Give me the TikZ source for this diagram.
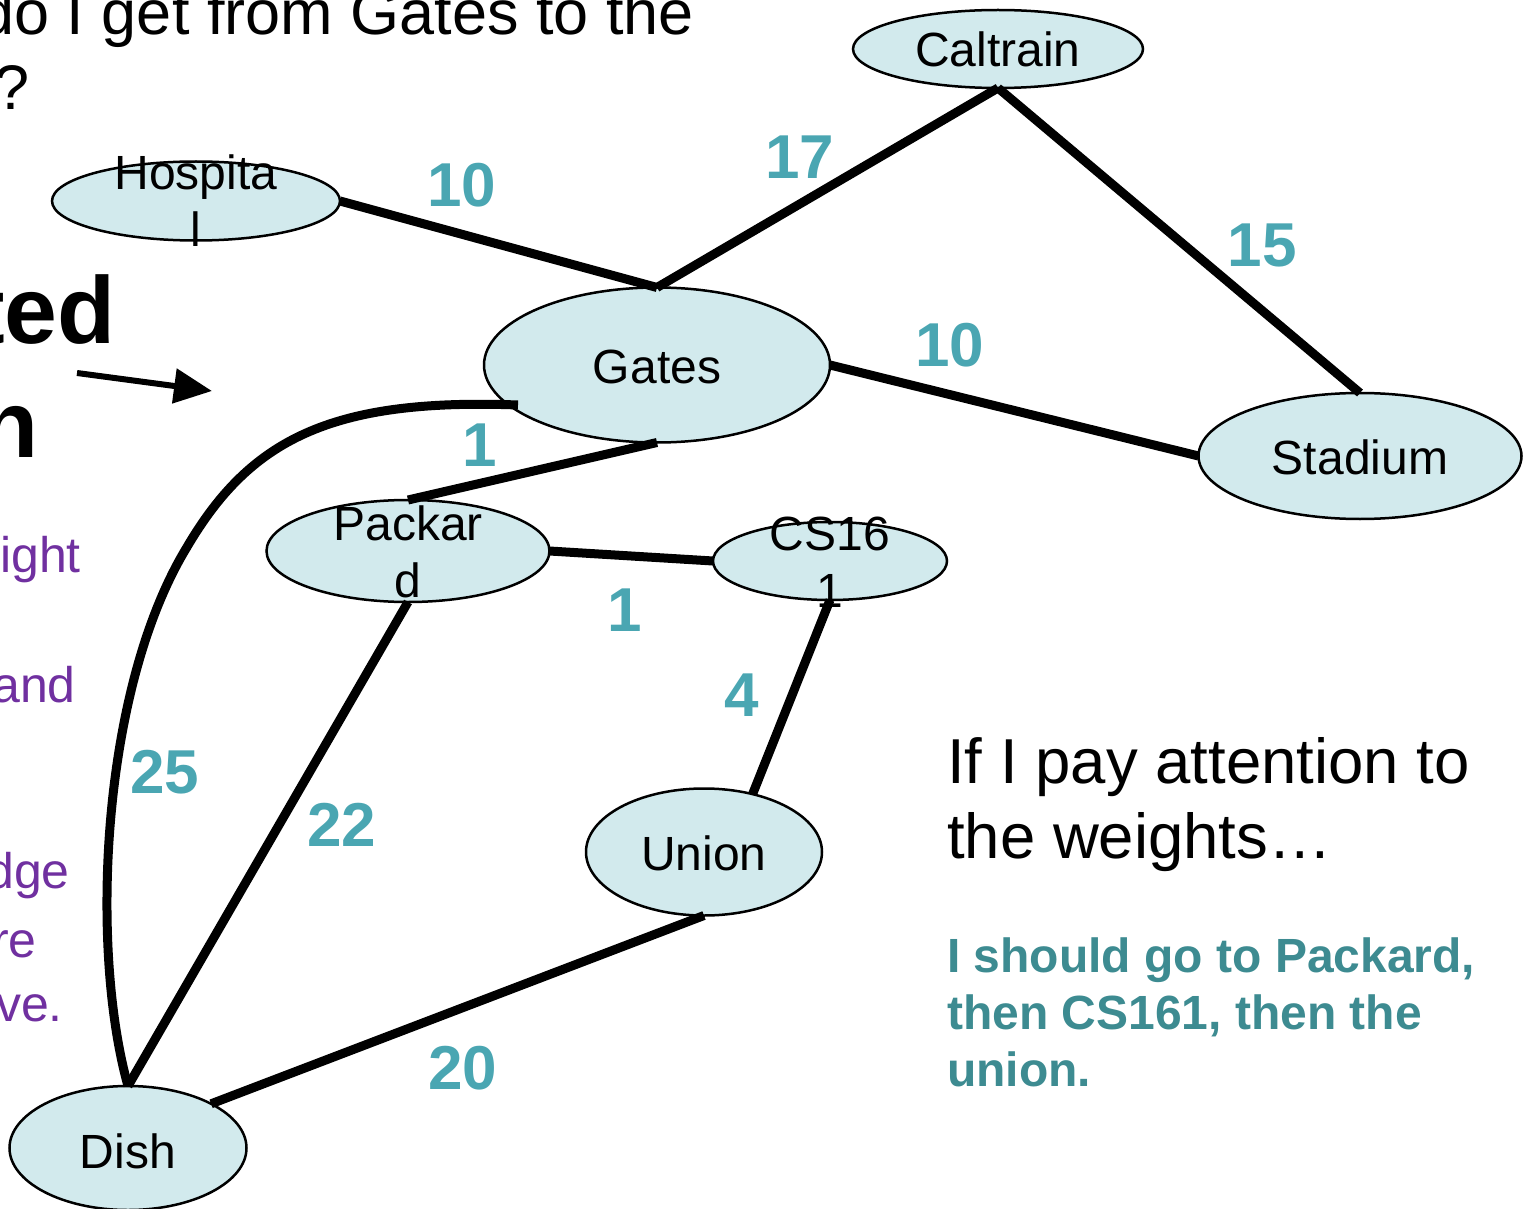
\documentclass[tikz,border=0pt]{standalone}
\usepackage{fontspec}
\setmainfont{Liberation Sans}
\usetikzlibrary{shapes.geometric, arrows.meta}

\definecolor{placefill}{RGB}{210,234,237}
\definecolor{weightteal}{RGB}{74,166,178}
\definecolor{noteteal}{RGB}{61,139,145}
\definecolor{notepurple}{RGB}{112,48,160}

\newcommand{\fsz}[2]{\fontsize{#1}{#2}\selectfont}

\begin{document}
\begin{tikzpicture}[x=1pt, y=-1pt,
  place/.style={ellipse, draw=black, line width=2.5pt, fill=placefill,
                inner sep=0pt, outer sep=0pt},
  placelabel/.style={inner sep=0pt, anchor=base, font=\fsz{48}{57.6}},
  road/.style={line width=9pt, black},
  weight/.style={inner sep=0pt, text=weightteal, font=\fsz{62}{74}\bfseries},
  bigtext/.style={inner sep=0pt, font=\fsz{63}{76}},
  notetext/.style={inner sep=0pt, anchor=base west, font=\fsz{63.5}{75}},
  answer/.style={inner sep=0pt, anchor=base west, text=noteteal, font=\fsz{48}{57}\bfseries},
  sidenote/.style={inner sep=0pt, anchor=base east, text=notepurple, font=\fsz{50}{60}},
  heading/.style={inner sep=0pt, anchor=base east, font=\fsz{95}{114}\bfseries}]

\useasboundingbox (0,0) rectangle (1527,1209);

% title and side text, partly outside the frame
\node[bigtext, anchor=base east] (title1) at (694,35) {do I get from Gates to the};
\node[bigtext, anchor=base west] (title2) at (-6,110) {?};
\node[heading] (head1) at (116,343) {ted};
\node[heading] (head2) at (39,457) {h};
\node[sidenote] (side1) at (81,572) {ight};
\node[sidenote] (side2) at (76,702) {and};
\node[sidenote] (side3) at (70,888) {dge};
\node[sidenote] (side4) at (37,957) {re};
\node[sidenote] (side5) at (63,1021) {ve.};

% pointer arrow
\coordinate (ptrTail) at (77,373);
\coordinate (ptrTip) at (212,391);
\draw[line width=6pt, -{Triangle[length=38pt,width=34pt]}] (ptrTail) -- (ptrTip);

% places
\node[place, minimum width=290pt, minimum height=78pt]  (Caltrain) at (998,49) {};
\node[place, minimum width=288pt, minimum height=79pt]  (Hospital) at (196,201) {};
\node[place, minimum width=346pt, minimum height=155pt] (Gates)    at (657,365) {};
\node[place, minimum width=323pt, minimum height=126pt] (Stadium)  at (1360,456) {};
\node[place, minimum width=283pt, minimum height=102pt] (Packard)  at (408,551) {};
\node[place, minimum width=234pt, minimum height=78pt]  (CS)       at (830,561) {};
\node[place, minimum width=236pt, minimum height=127pt] (Union)    at (704,852) {};
\node[place, minimum width=237pt, minimum height=124pt] (Dish)     at (128,1148) {};

% roads
\coordinate (gatesLoop) at (518,405);
\draw[road] (Hospital.east) -- (Gates.north);
\draw[road] (Gates.north) -- (Caltrain.south);
\draw[road] (Caltrain.south) -- (Stadium.north);
\draw[road] (Gates.east) -- (Stadium.west);
\draw[road] (Gates.south) -- (Packard.north);
\draw[road] (Packard.east) -- (CS.west);
\draw[road] (CS.south) -- (Union.50);
\draw[road] (Packard.south) -- (Dish.north);
\draw[road] (Union.south) -- (Dish.28);
\draw[road] (gatesLoop) .. controls (330,398) and (250,440) .. (187,547)
                        .. controls (100,690) and (90,950) .. (Dish.north);

% place names
\node[placelabel] (CaltrainT) at (998,67) {Caltrain};
\node[placelabel] (HospitalT1) at (196,190) {Hospita};
\node[placelabel] (HospitalT2) at (196,247) {l};
\node[placelabel] (GatesT) at (657,383) {Gates};
\node[placelabel] (StadiumT) at (1360,474) {Stadium};
\node[placelabel] (PackardT1) at (408,540) {Packar};
\node[placelabel] (PackardT2) at (408,597) {d};
\node[placelabel] (CST1) at (830,550) {CS16};
\node[placelabel] (CST2) at (830,607) {1};
\node[placelabel] (UnionT) at (704,870) {Union};
\node[placelabel] (DishT) at (128,1168) {Dish};

% weights
\node[weight] (w1) at (462,185) {10};
\node[weight] (w2) at (800,157) {17};
\node[weight] (w3) at (1262,245) {15};
\node[weight] (w4) at (950,345) {10};
\node[weight] (w5) at (480,445) {1};
\node[weight] (w6) at (625,610) {1};
\node[weight] (w7) at (742,695) {4};
\node[weight] (w8) at (165,772) {25};
\node[weight] (w9) at (342,825) {22};
\node[weight] (w10) at (463,1068) {20};

% remarks
\node[notetext] (note1) at (947,783) {If I pay attention to};
\node[notetext] (note2) at (947,858) {the weights…};
\node[answer] (ans1) at (947,972) {I should go to Packard,};
\node[answer] (ans2) at (947,1029) {then CS161, then the};
\node[answer] (ans3) at (947,1086) {union.};
\end{tikzpicture}
\end{document}
